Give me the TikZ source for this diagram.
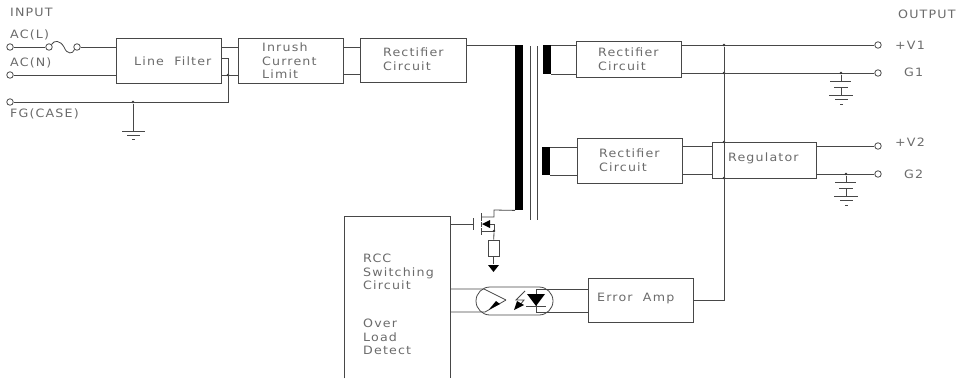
\documentclass[tikz,border=0pt]{standalone}
\usepackage{fontspec}
\setmainfont{DejaVu Sans}[FakeStretch=1.1,LetterSpace=10]
\usetikzlibrary{calc}
\definecolor{wirec}{gray}{0.28}
\definecolor{textc}{gray}{0.42}
\tikzset{
  wire/.style={draw=wirec,line width=0.8pt},
  thin wire/.style={draw=wirec,line width=0.7pt},
  box/.style={draw=wirec,line width=0.8pt,inner sep=0pt,anchor=north west},
  openbox/.style={inner sep=0pt,anchor=north west},
  txt/.style={text=textc,font=\fontsize{11.5}{13.6}\selectfont,inner sep=0pt,anchor=west,align=left},
  term/.style={circle,draw=wirec,line width=0.8pt,fill=white,minimum size=6.5pt,inner sep=0pt},
  dotn/.style={circle,fill=black!80,minimum size=2.8pt,inner sep=0pt},
  bar/.style={fill=black,draw=none,inner sep=0pt,anchor=north west},
}
\begin{document}
\begin{tikzpicture}[x=1pt,y=-1pt]
\useasboundingbox (0,0) rectangle (959,378);
% boxes
\node[box,minimum width=105pt,minimum height=45pt] (lf) at (116,38) {};
\node[box,minimum width=105pt,minimum height=45pt] (ic) at (238,38) {};
\node[box,minimum width=106pt,minimum height=44pt] (r0) at (360,38) {};
\node[box,minimum width=105pt,minimum height=36pt] (r1) at (576,41) {};
\node[box,minimum width=105pt,minimum height=45pt] (r2) at (577,138) {};
\node[box,minimum width=104pt,minimum height=36pt] (rg) at (712,142) {};
\node[openbox,minimum width=106pt,minimum height=162pt] (rc) at (344,216) {};
\draw[wire] (rc.south west) -- (rc.north west) -- (rc.north east) -- (rc.south east);
\node[box,minimum width=105pt,minimum height=44pt] (ea) at (588,278) {};
% texts
\node[txt] (tinput) at (10,12) {INPUT};
\node[txt] (tacl) at (10,35) {AC(L)};
\node[txt] (tacn) at (10,63) {AC(N)};
\node[txt] (tfg) at (10,114) {FG(CASE)};
\node[txt] (tlf) at (134,61) {Line\ \ Filter};
\node[txt] (tic) at (262,61) {Inrush\\Current\\Limit};
\node[txt] (tr0) at (383,59.5) {Rectifier\\Circuit};
\node[txt] (tr1) at (598,59.5) {Rectifier\\Circuit};
\node[txt] (tr2) at (599,160.5) {Rectifier\\Circuit};
\node[txt] (trg) at (728,158) {Regulator};
\node[txt] (tea) at (597,298) {Error\ \ Amp};
\node[txt] (trc) at (363,272) {RCC\\Switching\\Circuit};
\node[txt] (tol) at (363,337) {Over\\Load\\Detect};
\node[txt] (tout) at (898,14) {OUTPUT};
\node[txt] (tv1) at (895,45) {+V1};
\node[txt] (tg1) at (904,72) {G1};
\node[txt] (tv2) at (895,142) {+V2};
\node[txt] (tg2) at (904,174) {G2};
% input terminals
\node[term] (il) at (10,47) {};
\node[term] (in) at (10,75) {};
\node[term] (ifg) at (10,102) {};
\node[term] (fa) at (49,47) {};
\node[term] (fb) at (77,47) {};
\draw[wire] (il) -- (fa);
\draw[wire] (fa.north east) .. controls (54,40) and (60,40) .. (64,47) .. controls (67,55) and (73,54) .. (fb.south west);
\draw[wire] (fb) -- (fb -| lf.west);
\draw[wire] (in) -- (in -| lf.west);
% filter to inrush
\coordinate (ptop) at (221,47);
\coordinate (pbot) at (221,75);
\draw[wire] (ptop) -- (ptop -| ic.west);
\draw[wire] (pbot) -- (pbot -| ic.west);
\coordinate (stub) at (221,58);
\coordinate (fgc) at (228,102);
\node[dotn] (jf) at (228,75) {};
\node[dotn] (jg) at (133,102) {};
\draw[wire] (stub) -| (fgc) -- (ifg);
% ground input
\coordinate (g0) at (133,131);
\draw[wire] (jg) -- (g0);
\draw[wire] ($(g0)+(-11,0)$) -- ($(g0)+(12,0)$);
\draw[wire] ($(g0)+(-6,4)$) -- ($(g0)+(7,4)$);
\draw[wire] ($(g0)+(-1,8)$) -- ($(g0)+(2,8)$);
% inrush to rectifier
\coordinate (ia) at (343,47);
\coordinate (ib) at (343,74);
\draw[wire] (ia) -- (ia -| r0.west);
\draw[wire] (ib) -- (ib -| r0.west);
% transformer
\node[bar,minimum width=8pt,minimum height=165pt] (pri) at (515,45) {};
\node[bar,minimum width=8pt,minimum height=29pt] (s1) at (543,45) {};
\node[bar,minimum width=8pt,minimum height=28pt] (s2) at (542,147) {};
\coordinate (c1a) at (530,46); \coordinate (c1b) at (530,220);
\coordinate (c2a) at (537,46); \coordinate (c2b) at (537,220);
\draw[thin wire] (c1a) -- (c1b);
\draw[thin wire] (c2a) -- (c2b);
\draw[wire] (r0.east |- pri.north west) -- (pri.north west);
\draw[wire] (s1.north east) -- (s1.north east -| r1.west);
\draw[wire] (s1.south east) -- (s1.south east -| r1.west);
\draw[wire] (s2.north east) -- (s2.north east -| r2.west);
\draw[wire] (s2.south east) -- (s2.south east -| r2.west);
% output terminals
\node[term] (ov1) at (878,45) {};
\node[term] (og1) at (878,73) {};
\node[term] (ov2) at (878,146) {};
\node[term] (og2) at (878,174) {};
\draw[wire] (ov1 -| r1.east) -- (ov1);
\draw[wire] (og1 -| r1.east) -- (og1);
\draw[wire] (ov2 -| rg.east) -- (ov2);
\draw[wire] (og2 -| rg.east) -- (og2);
\coordinate (ra) at (682,146);
\coordinate (rb) at (682,174);
\draw[wire] (ra) -- (ra -| rg.west);
\draw[wire] (rb) -- (rb -| rg.west);
% feedback bus
\node[dotn] (j1) at (724,45) {};
\node[dotn] (j2) at (724,73) {};
\node[dotn] (j3) at (724,142) {};
\node[dotn] (j4) at (724,178) {};
\coordinate (fbc) at (724,300);
\draw[thin wire] (j1) -- (fbc) -- (fbc -| ea.east);
% output capacitors + grounds
\node[dotn] (jc1) at (841,73) {};
\node[dotn] (jc2) at (846,174) {};
\foreach \j/\n in {jc1/a,jc2/b}{
  \draw[wire] (\j) -- ++(0,8) coordinate (p\n);
  \draw[wire] ($(p\n)+(-11,0)$) -- ($(p\n)+(10,0)$);
  \draw[wire] ($(p\n)+(-7,6)$) -- ($(p\n)+(7,6)$);
  \draw[wire] ($(p\n)+(0,6)$) -- ($(p\n)+(0,14)$);
  \draw[wire] ($(p\n)+(-12,14)$) -- ($(p\n)+(12,14)$);
  \draw[wire] ($(p\n)+(-6,18)$) -- ($(p\n)+(7,18)$);
  \draw[wire] ($(p\n)+(-1,23)$) -- ($(p\n)+(2,23)$);
}
% MOSFET
\coordinate (gate) at (473,224);
\draw[wire] (gate -| rc.east) -- (gate);
\draw[wire] (473,218) -- (473,230);
\draw[wire] (481,213) -- (481,221);
\draw[wire] (481,222) -- (481,227);
\draw[wire] (481,228) -- (481,235);
\coordinate (dr) at (494,217);
\coordinate (sr) at (494,231);
\draw[wire] (481,217) -- (dr) -- (494,210) -- (pri.south west);
\draw[wire] (481,231) -- (sr);
\draw[wire] (sr) -- (494,224) -- (488,224);
\fill[black] (482,224) -- (490,220) -- (490,228) -- cycle;
\node[dotn] (js) at (sr) {};
\node[draw=wirec,line width=0.8pt,minimum width=11pt,minimum height=16pt,inner sep=0pt] (rs) at (493.5,248) {};
\draw[wire] (js) -- (rs);
\node[fill=black,inner sep=0pt,minimum size=0pt] (gnd) at (493.5,264) {};
\draw[wire] (rs) -- (gnd);
\fill[black] (488,265) -- (499,265) -- (493.5,272) -- cycle;
% optocoupler
\coordinate (oa) at (450,289);
\coordinate (ob) at (450,312);
\coordinate (oc) at (536,289);
\coordinate (od) at (536,312);
\draw[wire] (oa) -- (484,289) -- (506,300);
\draw[wire] (ob) -- (485,312) -- (506,300);
\fill[black] (489,309.5) -- (500,304) -- (496,301) -- cycle;
\draw[wire] (oc) -- (oc -| ea.west);
\draw[wire] (od) -- (od -| ea.west);
\draw[wire] (oc) -- (536,306);
\draw[wire] (536,306) -- (od);
\fill[black] (527,294) -- (545,294) -- (536,306) -- cycle;
\draw[wire] (526,306) -- (546,306);
\draw[wire] (490,287) -- (539,287) arc[start angle=-90,end angle=90,radius=14pt,y radius=-14pt] -- (490,315) arc[start angle=90,end angle=270,radius=14pt,y radius=-14pt] -- cycle;
\draw[wire] (525,291) -- (516,300) -- (524,300) -- (520,305);
\fill[black] (514,310) -- (517,301) -- (524,305) -- cycle;
\end{tikzpicture}
\end{document}
